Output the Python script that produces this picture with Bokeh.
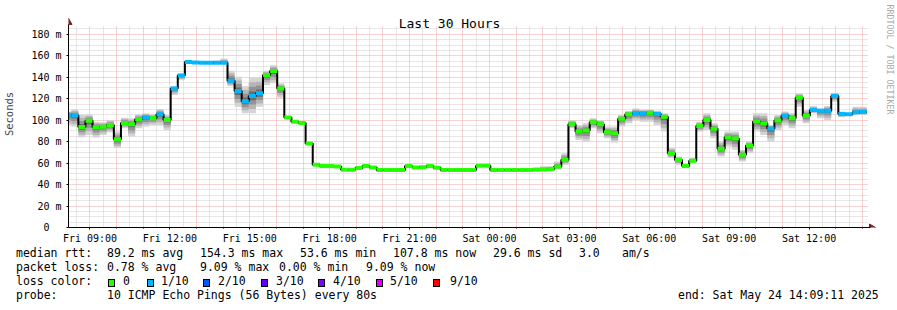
import math
from bokeh.plotting import figure
from bokeh.layouts import column
from bokeh.models import FixedTicker, Grid, Range1d, ColumnDataSource, Div
from bokeh.core.properties import value
from bokeh.embed import file_html
from bokeh.resources import INLINE

# ---------------- data ----------------
start_hour = 8.03          # hours since Fri 00:00 of first (partial) step
step_hours = 16 / 60       # consolidation step

median = [105.0, 104.3, 93.6, 99.5, 93.4, 93.8, 95.4, 82.2, 97.4, 96.2,
          100.8, 102.6, 101.8, 105.6, 100.1, 129.6, 141.7, 154.3, 153.7, 153.4,
          153.4, 153.4, 153.4, 136.8, 127.1, 117.6, 122.6, 125.0, 142.0, 145.8,
          129.6, 102.4, 98.6, 97.4, 78.2, 58.5, 57.2, 57.2, 56.8, 53.8,
          53.8, 55.4, 57.2, 56.0, 53.6, 53.6, 53.6, 53.6, 57.2, 56.0,
          56.2, 57.2, 55.7, 53.6, 53.6, 53.6, 53.6, 53.6, 57.5, 57.5,
          53.6, 53.6, 53.6, 53.6, 53.6, 53.6, 53.8, 54.0, 54.5, 56.9,
          63.1, 96.2, 89.4, 90.3, 98.0, 96.2, 88.8, 87.8, 101.4, 105.5,
          106.4, 106.4, 107.0, 105.8, 103.3, 69.3, 62.8, 57.2, 62.2, 94.6,
          100.2, 91.9, 73.3, 84.2, 82.9, 67.7, 76.4, 98.7, 96.8, 92.2,
          99.6, 104.2, 101.8, 120.9, 104.2, 109.5, 108.8, 108.8, 122.5, 105.8,
          105.5, 107.3, 107.6]

smoke_lo = [95.6, 94.0, 84.0, 86.3, 83.8, 86.3, 88.8, 74.0, 92.5, 84.7,
            92.5, 94.0, 95.6, 95.6, 90.9, 123.4, 137.3, 153.7, 152.8, 152.8,
            152.8, 152.8, 152.8, 131.7, 112.5, 106.4, 106.4, 112.5, 132.7, 134.3,
            121.0, 101.5, 97.8, 96.6, 77.4, 57.7, 56.5, 56.5, 56.1, 53.1,
            53.1, 54.7, 56.5, 55.3, 52.9, 52.9, 52.9, 52.9, 56.5, 55.3,
            55.5, 56.5, 55.0, 52.9, 52.9, 52.9, 52.9, 52.9, 56.8, 56.8,
            52.9, 52.9, 52.9, 52.9, 52.9, 52.9, 53.0, 53.0, 52.2, 53.8,
            58.5, 92.5, 81.6, 80.1, 92.5, 87.8, 83.2, 79.2, 94.0, 97.1,
            100.2, 98.6, 98.6, 95.6, 89.4, 64.7, 58.5, 55.4, 60.0, 89.4,
            90.9, 83.2, 66.2, 75.5, 72.4, 61.5, 69.3, 89.4, 86.3, 80.1,
            90.9, 95.6, 92.5, 112.5, 97.1, 106.4, 101.8, 100.2, 117.2, 102.7,
            104.6, 104.8, 104.8]

smoke_hi = [108.0, 110.0, 105.0, 105.5, 98.6, 98.0, 100.2, 89.4, 102.3, 101.8,
            105.5, 106.4, 105.5, 110.4, 104.8, 131.7, 143.5, 156.0, 155.0, 154.5,
            154.5, 155.5, 157.4, 146.0, 140.4, 131.7, 139.5, 139.5, 146.0, 151.2,
            134.3, 103.2, 99.4, 98.2, 79.0, 59.3, 57.9, 57.9, 57.5, 54.5,
            54.5, 56.1, 57.9, 56.7, 54.3, 54.3, 54.3, 54.3, 57.9, 56.7,
            56.9, 57.9, 56.4, 54.3, 54.3, 54.3, 54.3, 54.3, 58.2, 58.2,
            54.3, 54.3, 54.3, 54.3, 54.3, 54.3, 56.0, 57.0, 57.0, 61.5,
            69.3, 100.2, 95.6, 97.1, 101.8, 100.2, 94.0, 94.0, 104.8, 108.6,
            111.0, 110.0, 110.0, 108.8, 106.4, 74.0, 66.2, 58.5, 64.7, 98.6,
            106.4, 97.1, 80.1, 89.4, 89.4, 72.4, 80.1, 106.4, 106.4, 95.6,
            104.8, 108.0, 106.4, 125.0, 109.5, 113.2, 111.0, 113.2, 125.6, 108.0,
            106.4, 112.5, 112.5]

# loss class per step: 0 -> "0", 1 -> "1/10"
loss_idx = [1, 1, 0, 0, 0, 0, 0, 0, 0, 0,
            0, 1, 0, 1, 0, 1, 1, 1, 1, 1,
            1, 1, 1, 1, 1, 1, 1, 1, 0, 0,
            0, 0, 0, 0, 0, 0, 0, 0, 0, 0,
            0, 0, 0, 0, 0, 0, 0, 0, 0, 0,
            0, 0, 0, 0, 0, 0, 0, 0, 0, 0,
            0, 0, 0, 0, 0, 0, 0, 0, 0, 0,
            0, 0, 0, 0, 0, 0, 0, 0, 0, 0,
            1, 1, 0, 1, 0, 0, 0, 0, 0, 0,
            0, 0, 0, 0, 0, 0, 0, 0, 0, 1,
            0, 1, 0, 0, 0, 1, 1, 1, 1, 1,
            1, 1, 1]

loss_names = ["0", "1/10", "2/10", "3/10", "4/10", "5/10", "9/10"]
loss_colors = ["#26ff00", "#00b8ff", "#0059ff", "#5e00ff", "#7e00ff", "#dd00ff", "#ff0000"]

x_ticks = [9, 12, 15, 18, 21, 24, 27, 30, 33, 36]
x_labels = ["Fri 09:00", "Fri 12:00", "Fri 15:00", "Fri 18:00", "Fri 21:00",
            "Sat 00:00", "Sat 03:00", "Sat 06:00", "Sat 09:00", "Sat 12:00"]
y_ticks = [0, 20, 40, 60, 80, 100, 120, 140, 160, 180]
y_labels = ["0\u00a0\u00a0", "20 m", "40 m", "60 m", "80 m", "100 m",
            "120 m", "140 m", "160 m", "180 m"]

title_text = "Last 30 Hours"
watermark_text = "RRDTOOL / TOBI OETIKER"
stats_rtt = [("median rtt:", 16), ("89.2 ms avg", 107), ("154.3 ms max", 200),
             ("53.6 ms min", 300), ("107.8 ms now", 393), ("29.6 ms sd", 493),
             ("3.0", 579), ("am/s", 622)]
stats_loss = [("packet loss:", 16), ("0.78 % avg", 107), ("9.09 % max", 200),
              ("0.00 % min", 279), ("9.09 % now", 366)]
probe_label = "probe:"
probe_text = "10 ICMP Echo Pings (56 Bytes) every 80s"
end_text = "end: Sat May 24 14:09:11 2025"

# ---------------- geometry ----------------
MONO = "DejaVu Sans Mono"
W = 897
TOP_H = 246
FRAME_L = 67
PLOT_R = 867          # right edge of the drawing area
FRAME_B = 228         # pixel row of value 0
PX_PER_H = 800 / 30
PX_PER_V = 202 / 187.4
x_start = 9 - 21.5 / PX_PER_H
x_end = x_start + (W - FRAME_L) / PX_PER_H
y_end = FRAME_B / PX_PER_V

def px2x(px):
    return x_start + (px - FRAME_L) / PX_PER_H

def px2y(py):
    return (FRAME_B - py) / PX_PER_V

p = figure(width=W, height=TOP_H, output_backend="svg", toolbar_location=None,
           x_range=Range1d(x_start, x_end), y_range=Range1d(0, y_end),
           min_border_left=FRAME_L, min_border_right=0, min_border_top=0,
           min_border_bottom=TOP_H - FRAME_B, background_fill_color="white",
           border_fill_color="white", outline_line_color=None)
p.xgrid.visible = False
p.ygrid.visible = False

# grids (limited to the drawing area)
half_hours = [h + 0.5 for h in range(8, 38)]
hours = list(range(9, 39))
fives = [v for v in range(5, 190, 5) if v % 20 != 0]
twenties = list(range(20, 190, 20))
vb = (0, px2y(26.5))
hb = (x_start, px2x(PLOT_R))
for dim, ticks, col in [(0, half_hours, "#cfcfcf"), (1, fives, "#cfcfcf"),
                        (0, hours, "#efa4a4"), (1, twenties, "#efa4a4")]:
    g = Grid(dimension=dim, ticker=FixedTicker(ticks=ticks),
             axis=(p.xaxis[0] if dim == 0 else p.yaxis[0]),
             cross_bounds=(vb if dim == 0 else hb),
             grid_line_color=col, grid_line_dash="1 1", grid_line_width=1)
    p.add_layout(g)

# smoke
n = len(median)
t_left = [start_hour + i * step_hours for i in range(n)]
t_right = [t + step_hours for t in t_left]
levels = [(1.0, "#d4d4d4"), (0.75, "#b6b6b6"), (0.5, "#939393"), (0.25, "#6c6c6c")]
for f, col in levels:
    bot = [m - f * (m - lo) for m, lo in zip(median, smoke_lo)]
    top = [m + f * (hi - m) for m, hi in zip(median, smoke_hi)]
    p.quad(left=t_left, right=t_right, bottom=bot, top=top,
           fill_color=col, line_color=None)

# median step line
p.step(t_left + [t_right[-1]], median + [median[-1]], mode="after",
       line_color="black", line_width=2)

# loss colored median segments
seg_src = ColumnDataSource(dict(x0=t_left, x1=t_right, y=median,
                                c=[loss_colors[k] for k in loss_idx]))
p.segment(x0="x0", x1="x1", y0="y", y1="y", line_color="c", line_width=4,
          line_cap="butt", source=seg_src)

# axes
p.xaxis.ticker = FixedTicker(ticks=x_ticks, minor_ticks=hours)
p.xaxis.major_label_overrides = {t: l for t, l in zip(x_ticks, x_labels)}
p.yaxis.ticker = FixedTicker(ticks=y_ticks, minor_ticks=[])
p.yaxis.major_label_overrides = {t: l for t, l in zip(y_ticks, y_labels)}
for ax in (p.xaxis, p.yaxis):
    ax.major_label_text_font = MONO
    ax.major_label_text_font_size = "10px"
    ax.major_label_text_color = "black"
    ax.axis_line_color = "black"
    ax.major_tick_line_color = "black"
    ax.major_tick_out = 2
    ax.major_tick_in = 0
    ax.minor_tick_out = 1
    ax.minor_tick_in = 0
p.xaxis.bounds = (x_start, px2x(870))
p.yaxis.bounds = (0, px2y(24))
p.xaxis.major_label_standoff = 3
p.yaxis.major_label_standoff = 5
p.yaxis.axis_label = "Seconds"
p.yaxis.axis_label_text_font = MONO
p.yaxis.axis_label_text_font_size = "10.5px"
p.yaxis.axis_label_text_font_style = "normal"
p.yaxis.axis_label_standoff = 13

# arrow heads at the axis ends
ac = "#7f1f1f"
p.scatter(x=[px2x(871)], y=[0], marker="triangle", size=7, angle=-math.pi / 2,
          fill_color=ac, line_color=ac)
p.scatter(x=[x_start], y=[px2y(22)], marker="triangle", size=7,
          fill_color=ac, line_color=ac)

# title and watermark
p.text(x=[px2x(448.5)], y=[px2y(23.5)], text=[title_text], text_align="center",
       text_baseline="alphabetic", text_font=value(MONO), text_font_size="13px",
       text_color="black")
p.text(x=[px2x(889)], y=[px2y(4)], text=[watermark_text], angle=-math.pi / 2,
       text_align="left", text_baseline="middle", text_font=value(MONO),
       text_font_size="8.3px", text_color="#a8a8a8")

# ---------------- legend / statistics strip (HTML) ----------------
LEG_H = 310 - TOP_H
FS = 11.5
ASC = 0.846 * FS    # baseline offset from top of a line box with line-height = font size

def span(txt, x, base_y):
    top = base_y - TOP_H - ASC
    return (f'<span style="position:absolute;left:{x}px;top:{top:.2f}px;'
            f'line-height:{FS}px;white-space:pre;">{txt}</span>')

parts = []
for txt, x in stats_rtt:
    parts.append(span(txt, x, 257.5))
for txt, x in stats_loss:
    parts.append(span(txt, x, 271.5))
parts.append(span("loss color:", 16, 285.5))
box_x = [108, 146.5, 203, 261, 318, 375.5, 433]
lab_x = [123, 161, 218, 276, 333, 390, 450]
for name, col, bx, lx in zip(loss_names, loss_colors, box_x, lab_x):
    parts.append(f'<span style="position:absolute;left:{bx}px;top:{278.5 - TOP_H}px;'
                 f'width:7px;height:8px;box-sizing:border-box;'
                 f'border:1px solid #000;background:{col};"></span>')
    parts.append(span(name, lx, 285.5))
parts.append(span(probe_label, 16, 299.5))
parts.append(span(probe_text, 107, 299.5))
parts.append(span(end_text, 678, 299.5))

html = (f'<div style="position:relative;width:{W}px;height:{LEG_H}px;margin:0;padding:0;'
        f"font-family:'{MONO}';font-size:{FS}px;color:#000;background:#fff;\">"
        + "".join(parts) + "</div>")
legend = Div(text=html, width=W, height=LEG_H, margin=0,
             styles={"margin": "0", "padding": "0"})

layout = column(p, legend, spacing=0)
open("out.html", "w").write(file_html(layout, INLINE))
